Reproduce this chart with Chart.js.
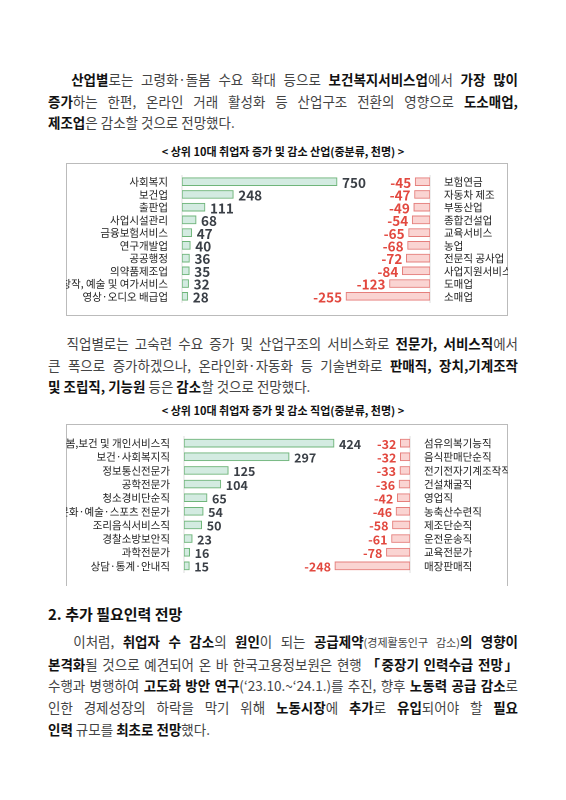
<!DOCTYPE html>
<html><head><meta charset="utf-8">
<script src="https://cdn.jsdelivr.net/npm/chart.js@4"></script>
<style>
body{margin:0;background:#fff;font-family:"Noto Sans CJK KR","Noto Sans",sans-serif;color:#222;}
#page{position:relative;width:566px;height:800px;}
.p{position:absolute;left:48px;width:470px;font-size:13.5px;line-height:21.7px;color:#444;}
.p div{text-align:justify;text-align-last:justify;white-space:nowrap;}
.p div.last{text-align-last:left;}
.p b{color:#111;font-weight:700;}
.t{position:absolute;left:0;width:566px;text-align:center;font-size:11px;font-weight:700;color:#111;}
.box{position:absolute;left:66px;width:440px;border:1px solid #bbb;}
canvas{position:absolute;}
.small{font-size:11px;}
</style></head><body><div id="page">
<div class="p" style="top:69px">
<div>&nbsp;&nbsp;&nbsp;<b>산업별</b>로는 고령화·돌봄 수요 확대 등으로 <b>보건복지서비스업</b>에서 <b>가장 많이</b></div>
<div><b>증가</b>하는 한편, 온라인 거래 활성화 등 산업구조 전환의 영향으로 <b>도소매업,</b></div>
<div class="last"><b>제조업</b>은 감소할 것으로 전망했다.</div>
</div>
<div class="t" style="top:143px">&lt; 상위 10대 취업자 증가 및 감소 산업(중분류, 천명) &gt;</div>
<div class="box" style="top:163px;height:151px"></div>
<div class="p" style="top:333px">
<div>&nbsp;&nbsp;&nbsp;직업별로는 고숙련 수요 증가 및 산업구조의 서비스화로 <b>전문가, 서비스직</b>에서</div>
<div>큰 폭으로 증가하겠으나, 온라인화·자동화 등 기술변화로 <b>판매직, 장치,기계조작</b></div>
<div class="last"><b>및 조립직, 기능원</b> 등은 <b>감소</b>할 것으로 전망했다.</div>
</div>
<div class="t" style="top:402px">&lt; 상위 10대 취업자 증가 및 감소 직업(중분류, 천명) &gt;</div>
<div class="box" style="top:424px;height:161px;border-bottom:none"></div>
<div style="position:absolute;left:48px;top:603px;font-size:15px;font-weight:700;color:#111">2. 추가 필요인력 전망</div>
<div class="p" style="top:631px">
<div>&nbsp;&nbsp;&nbsp;이처럼, <b>취업자 수 감소</b>의 <b>원인</b>이 되는 <b>공급제약</b><span class="small">(경제활동인구 감소)</span><b>의 영향이</b></div>
<div><b>본격화</b>될 것으로 예견되어 온 바 한국고용정보원은 현행 <b>「중장기 인력수급 전망」</b></div>
<div>수행과 병행하여 <b>고도화 방안 연구</b>(‘23.10.~‘24.1.)를 추진, 향후 <b>노동력 공급 감소</b>로</div>
<div>인한 경제성장의 하락을 막기 위해 <b>노동시장</b>에 <b>추가</b>로 <b>유입</b>되어야 할 <b>필요</b></div>
<div class="last"><b>인력</b> 규모를 <b>최초로 전망</b>했다.</div>
</div>
<canvas id="c1" style="left:66px;top:163px;width:314px;height:152px"></canvas>
<canvas id="c2" style="left:290px;top:163px;width:218px;height:152px"></canvas>
<canvas id="c3" style="left:66px;top:424px;width:320px;height:161px"></canvas>
<canvas id="c4" style="left:280px;top:424px;width:228px;height:161px"></canvas>
</div>
<script>
const indUpLabels=["사회복지","보건업","출판업","사업시설관리","금융보험서비스","연구개발업","공공행정","의약품제조업","창작, 예술 및 여가서비스","영상·오디오 배급업"];
const indUpValues=[750,248,111,68,47,40,36,35,32,28];
const indDownLabels=["보험연금","자동차 제조","부동산업","종합건설업","교육서비스","농업","전문직 공사업","사업지원서비스","도매업","소매업"];
const indDownValues=[-45,-47,-49,-54,-65,-68,-72,-84,-123,-255];
const occUpLabels=["돌봄,보건 및 개인서비스직","보건·사회복지직","정보통신전문가","공학전문가","청소경비단순직","문화·예술·스포츠 전문가","조리음식서비스직","경찰소방보안직","과학전문가","상담·통계·안내직"];
const occUpValues=[424,297,125,104,65,54,50,23,16,15];
const occDownLabels=["섬유의복기능직","음식판매단순직","전기전자기계조작직","건설채굴직","영업직","농축산수련직","제조단순직","운전운송직","교육전문가","매장판매직"];
const occDownValues=[-32,-32,-33,-36,-42,-46,-58,-61,-78,-248];

const F='"Noto Sans CJK KR","Noto Sans",sans-serif';
const valPlugin={id:'vals',afterDatasetsDraw(ch,a,o){const c=ch.ctx;const m=ch.getDatasetMeta(0);const d=ch.data.datasets[0].data;
c.save();c.font='bold '+o.size+'px '+F;c.fillStyle=o.color;c.textBaseline='middle';
m.data.forEach((el,i)=>{if(d[i]>=0){c.textAlign='left';c.fillText(d[i],el.x+5,el.y+1);}else{c.textAlign='right';c.fillText(d[i],el.x-4,el.y+1);}});c.restore();}};
function mk(id,labels,vals,opt){
 const pos=vals[0]>=0;
 new Chart(document.getElementById(id),{type:'bar',plugins:[valPlugin],
 data:{labels,datasets:[{data:vals,backgroundColor:pos?'#d3ebe1':'#fad4d2',borderColor:pos?'#6fb57a':'#e57f7c',borderWidth:1,borderSkipped:false,barThickness:opt.bt}]},
 options:{indexAxis:'y',responsive:false,animation:false,devicePixelRatio:2,
  layout:{padding:opt.pad},
  plugins:{legend:{display:false},tooltip:{enabled:false},vals:{size:opt.vs,color:pos?'#3a3f46':'#e2483f'}},
  scales:{x:{min:opt.min,max:opt.max,display:false},
   y:{position:pos?'left':'right',grid:{display:false},border:{color:'#ddd'},
    ticks:{font:{size:10.5,family:F},color:'#222',padding:6,autoSkip:false,crossAlign:'near'},
    afterFit(s){s.width=opt.aw;}}}}});
}
mk('c1',indUpLabels,indUpValues,{min:0,max:958,aw:116,pad:{top:8,bottom:5,left:0,right:0},bt:8,vs:13.5});
mk('c2',indDownLabels,indDownValues,{min:-410,max:0,aw:78,pad:{top:8,bottom:5,left:5,right:0},bt:8,vs:13.5});
mk('c3',occUpLabels,occUpValues,{min:0,max:571,aw:118,pad:{top:8,bottom:1,left:0,right:0},bt:8,vs:12.5});
mk('c4',occDownLabels,occDownValues,{min:-413,max:0,aw:98,pad:{top:8,bottom:1,left:5,right:0},bt:8,vs:12.5});
</script></body></html>
